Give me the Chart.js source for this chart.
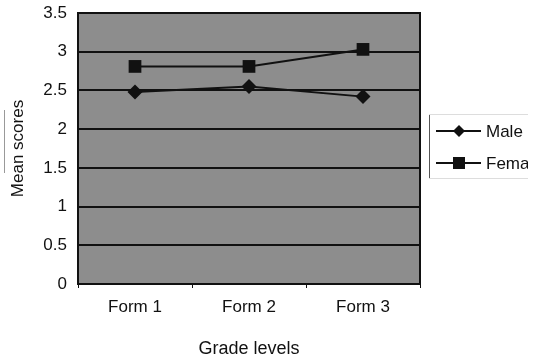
<!DOCTYPE html>
<html><head><meta charset="utf-8">
<script src="https://cdn.jsdelivr.net/npm/chart.js@4/dist/chart.umd.min.js"></script>
<style>html,body{margin:0;padding:0;background:#fff;overflow:hidden}canvas{display:block}</style>
</head><body>
<canvas id="c" width="540" height="364"></canvas>
<script>
const categories = ["Form 1", "Form 2", "Form 3"];
const maleScores = [2.48, 2.55, 2.42];
const femaleScores = [2.81, 2.81, 3.03];
const seriesNames = ["Male", "Female"];
const yTicks = [0, 0.5, 1, 1.5, 2, 2.5, 3, 3.5];

const FONT = "'Liberation Sans', Arial, sans-serif";

const frame = {
  id: 'frame',
  beforeDraw(chart) {
    const {ctx, chartArea: a} = chart;
    ctx.save();
    ctx.fillStyle = '#8d8d8d';
    ctx.fillRect(a.left, a.top, a.right - a.left, a.bottom - a.top);
    ctx.restore();
  },
  afterDraw(chart) {
    const {ctx, chartArea: a} = chart;
    ctx.save();
    ctx.strokeStyle = '#111';
    ctx.lineWidth = 2;
    ctx.strokeRect(a.left, a.top, a.right - a.left, a.bottom - a.top);
    // faint scan mark at far left
    ctx.strokeStyle = '#999';
    ctx.lineWidth = 1;
    ctx.beginPath(); ctx.moveTo(4.5, 110); ctx.lineTo(4.5, 173); ctx.stroke();
    // legend (source image cropped at right)
    ctx.beginPath(); ctx.rect(0, 0, 528, 364); ctx.clip();
    const lx = a.right + 9, ly = 114, lh = 64;
    ctx.strokeStyle = '#555';
    ctx.lineWidth = 1;
    ctx.beginPath();
    ctx.moveTo(lx + 0.5, ly); ctx.lineTo(lx + 0.5, ly + lh);
    ctx.stroke();
    ctx.strokeStyle = '#ddd';
    ctx.beginPath();
    ctx.moveTo(lx, ly + 0.5); ctx.lineTo(540, ly + 0.5);
    ctx.moveTo(lx, ly + lh + 0.5); ctx.lineTo(540, ly + lh + 0.5);
    ctx.stroke();
    const rows = [ly + 17, ly + 49];
    chart.data.datasets.forEach((ds, i) => {
      const y = rows[i];
      ctx.strokeStyle = '#111';
      ctx.lineWidth = 2;
      ctx.beginPath(); ctx.moveTo(lx + 7, y); ctx.lineTo(lx + 52, y); ctx.stroke();
      ctx.fillStyle = '#111';
      const cx = lx + 30;
      if (ds.pointStyle === 'rectRot') {
        ctx.beginPath();
        ctx.moveTo(cx, y - 6); ctx.lineTo(cx + 6, y); ctx.lineTo(cx, y + 6); ctx.lineTo(cx - 6, y);
        ctx.closePath(); ctx.fill();
      } else {
        ctx.fillRect(cx - 6, y - 6, 12, 12);
      }
      ctx.font = '17px ' + FONT;
      ctx.textBaseline = 'middle';
      ctx.fillText(ds.label, lx + 57, y + 1);
    });
    ctx.restore();
  }
};

new Chart(document.getElementById('c'), {
  type: 'line',
  data: {
    labels: categories,
    datasets: [
      { label: seriesNames[0], data: maleScores, borderColor: '#111', backgroundColor: '#111',
        borderWidth: 2, pointStyle: 'rectRot', pointRadius: 7.5, pointBorderWidth: 0, tension: 0 },
      { label: seriesNames[1], data: femaleScores, borderColor: '#111', backgroundColor: '#111',
        borderWidth: 2, pointStyle: 'rect', pointRadius: 9, pointBorderWidth: 0, tension: 0 }
    ]
  },
  options: {
    responsive: false,
    animation: false,
    layout: { padding: { top: 13, right: 120, left: 0, bottom: 0 } },
    plugins: { legend: { display: false }, tooltip: { enabled: false } },
    scales: {
      x: {
        offset: true,
        grid: { display: true, drawOnChartArea: false, drawTicks: true, tickLength: 4, color: '#111', offset: true },
        border: { display: false },
        ticks: { color: '#111', font: { family: FONT, size: 17 }, padding: 9 },
        title: { display: true, text: 'Grade levels', color: '#111', font: { family: FONT, size: 18 }, padding: { top: 4 } },
        afterFit(s) { s.height = 80; s.paddingLeft = 0; s.paddingRight = 0; }
      },
      y: {
        min: 0, max: 3.5,
        afterBuildTicks(s) { s.ticks = yTicks.map(v => ({ value: v })); },
        grid: { color: '#111', lineWidth: 2, drawTicks: false },
        border: { display: false },
        ticks: { color: '#111', font: { family: FONT, size: 17 }, padding: 11, callback: v => String(v) },
        title: { display: true, text: 'Mean scores', color: '#111', font: { family: FONT, size: 17 }, padding: { top: 8, bottom: 0 } },
        afterFit(s) { s.width = 78; s.paddingTop = 0; s.paddingBottom = 0; }
      }
    }
  },
  plugins: [frame]
});
</script>
</body></html>
